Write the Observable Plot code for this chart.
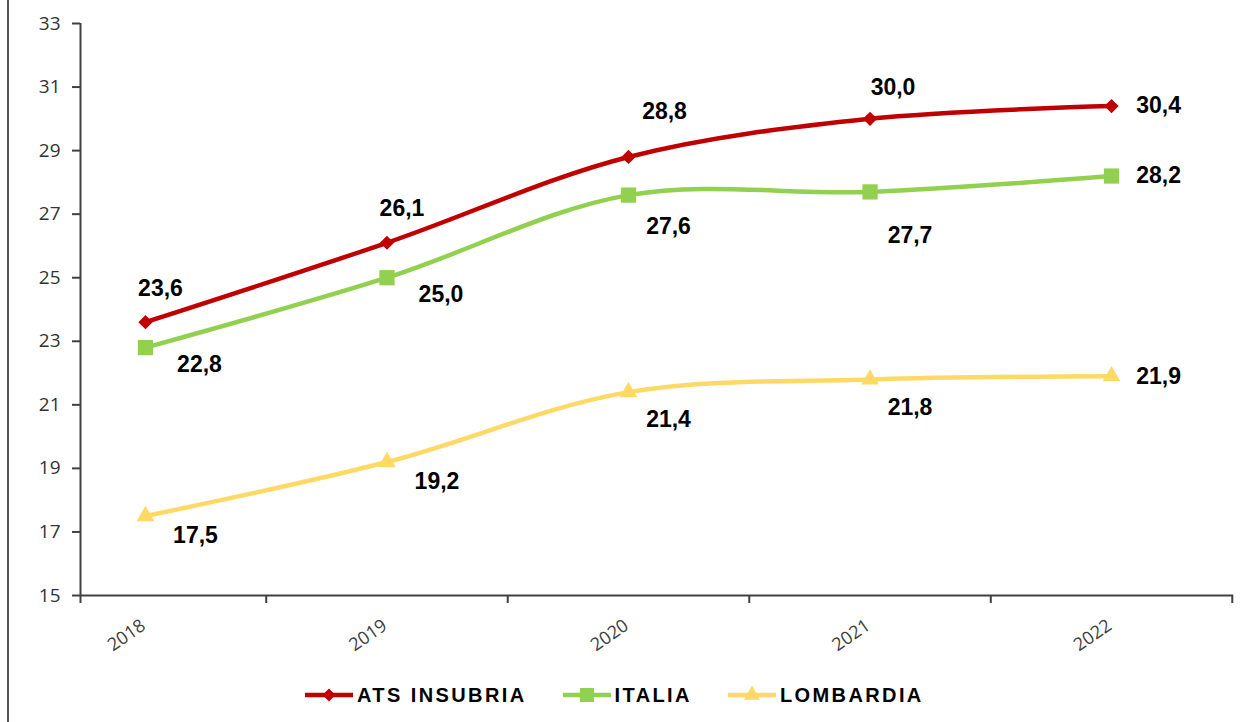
<!DOCTYPE html>
<html><head><meta charset="utf-8">
<script src="https://cdn.jsdelivr.net/npm/d3@7"></script>
<script src="https://cdn.jsdelivr.net/npm/@observablehq/plot@0.6"></script>
<style>
body{margin:0;background:#fff;width:1260px;height:722px;overflow:hidden;position:relative;font-family:"Liberation Sans",Arial,sans-serif}
#border{position:absolute;left:7px;top:0;width:2px;height:722px;background:#555}
#chart{position:absolute;left:0;top:0}
#legend{position:absolute;left:305px;top:677px;height:36px;display:flex;align-items:center}
.item{display:flex;align-items:center;margin-right:36px}
.item span{font:bold 20px "Liberation Sans",Arial,sans-serif;letter-spacing:2.4px;color:#000}
.item svg{margin-right:4px}
</style></head>
<body>
<div id="chart"></div>
<div id="border"></div>
<div id="legend"></div>
<script>
const years = ["2018","2019","2020","2021","2022"];
const seriesNames = ["ATS INSUBRIA","ITALIA","LOMBARDIA"];
const atsInsubria = [23.6, 26.1, 28.8, 30.0, 30.4];
const italia = [22.8, 25.0, 27.6, 27.7, 28.2];
const lombardia = [17.5, 19.2, 21.4, 21.8, 21.9];
const yTicks = [15,17,19,21,23,25,27,29,31,33];

const colors = {"ATS INSUBRIA":"#c00000","ITALIA":"#92d050","LOMBARDIA":"#ffd966"};
const symbols = {"ATS INSUBRIA":"diamond2","ITALIA":"square","LOMBARDIA":"triangle"};
const radii = {"ATS INSUBRIA":6.4,"ITALIA":8.6,"LOMBARDIA":6.6};

const values = [atsInsubria, italia, lombardia];
const data = [];
seriesNames.forEach((s, k) => values[k].forEach((v, i) => data.push({series: s, i, year: years[i], value: v})));

const xMin = -0.269, xMax = 4.505;
const fmt = v => v.toFixed(1).replace(".", ",");
const last = years.length - 1;

const labelStyle = {text: d => fmt(d.value), fontSize: 23, fontWeight: "bold", fill: "#000",
  fontFamily: "Liberation Sans, Arial, sans-serif", x: "i", y: "value"};
const pick = (s, idx) => data.filter(d => d.series === s && idx.includes(d.i));

const plot = Plot.plot({
  width: 1260, height: 675,
  marginLeft: 80, marginRight: 27, marginTop: 23, marginBottom: 80,
  style: {background: "transparent", fontFamily: "Open Sans, sans-serif"},
  x: {type: "linear", domain: [xMin, xMax], label: null},
  y: {domain: [15, 33], label: null},
  marks: [
    Plot.axisY({ticks: yTicks, tickSize: 8, tickPadding: 12, fontSize: 19, fill: "#333",
      stroke: "#404040", strokeWidth: 2, tickFormat: d => d, label: null}),
    Plot.axisX({ticks: [xMin, 0.5, 1.5, 2.5, 3.5, 4.5], tickSize: 8, tickFormat: () => "",
      stroke: "#404040", strokeWidth: 2, label: null}),
    Plot.ruleX([xMin], {stroke: "#404040", strokeWidth: 2}),
    Plot.ruleY([15], {stroke: "#404040", strokeWidth: 2}),
    Plot.text(years, {x: (d, i) => i, frameAnchor: "bottom", rotate: -35, textAnchor: "end",
      lineAnchor: "middle", dx: -2, dy: 28, fontSize: 18, fill: "#404040", fontFamily: "Open Sans, sans-serif"}),
    ...seriesNames.map(s => Plot.line(data.filter(d => d.series === s), {x: "i", y: "value",
      stroke: colors[s], strokeWidth: 4.5, curve: "catmull-rom"})),
    ...seriesNames.map(s => Plot.dot(data.filter(d => d.series === s), {x: "i", y: "value",
      symbol: symbols[s], fill: colors[s], r: radii[s], stroke: "none"})),
    // ATS INSUBRIA labels above
    Plot.text(pick("ATS INSUBRIA", [0, 1]), {...labelStyle, dx: 15, dy: -34}),
    Plot.text(pick("ATS INSUBRIA", [2]), {...labelStyle, dx: 36, dy: -45}),
    Plot.text(pick("ATS INSUBRIA", [3]), {...labelStyle, dx: 23, dy: -31}),
    // ITALIA / LOMBARDIA labels below right
    Plot.text(pick("ITALIA", [0, 1]), {...labelStyle, dx: 54, dy: 17}),
    Plot.text(pick("LOMBARDIA", [0, 1]), {...labelStyle, dx: 50, dy: 20}),
    Plot.text(pick("ITALIA", [2]), {...labelStyle, dx: 40, dy: 32}),
    Plot.text(pick("ITALIA", [3]), {...labelStyle, dx: 40, dy: 44}),
    Plot.text(pick("LOMBARDIA", [2, 3]), {...labelStyle, dx: 40, dy: 28}),
    // last point labels to the right
    Plot.text(data.filter(d => d.i === last), {...labelStyle, dx: 47, dy: 0})
  ]
});
document.getElementById("chart").appendChild(plot);

// Legend
const legend = d3.select("#legend");
seriesNames.forEach(s => {
  const item = legend.append("div").attr("class", "item");
  const svg = item.append("svg").attr("width", 48).attr("height", 22);
  svg.append("line").attr("x1", 0).attr("x2", 48).attr("y1", 11).attr("y2", 11)
    .attr("stroke", colors[s]).attr("stroke-width", 4.5);
  const sym = {"diamond2": d3.symbolDiamond2, "square": d3.symbolSquare, "triangle": d3.symbolTriangle}[symbols[s]];
  svg.append("path").attr("d", d3.symbol(sym, Math.PI * radii[s] * radii[s] * 0.85)())
    .attr("transform", "translate(24,11)").attr("fill", colors[s]);
  item.append("span").text(s);
});
</script>
</body></html>
